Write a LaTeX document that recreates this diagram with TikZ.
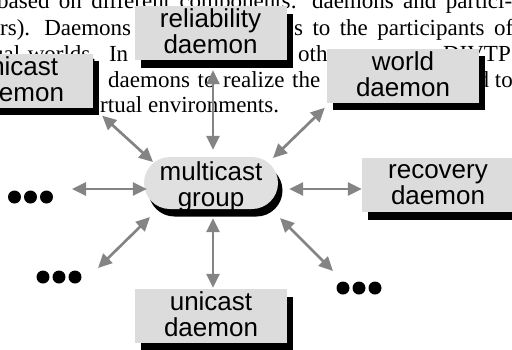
\documentclass[tikz,border=0pt]{standalone}
\usepackage{fontspec}
\setmainfont{Liberation Serif}
\newfontfamily\lblfont{Liberation Sans}
\usetikzlibrary{arrows.meta,shadows}
\definecolor{boxgray}{RGB}{220,220,220}
\definecolor{pillgray}{RGB}{224,224,224}
\definecolor{arrowgray}{RGB}{132,132,132}
\begin{document}
\begin{tikzpicture}[x=1pt,y=-1pt,
  bg/.style={anchor=base west, inner sep=0pt, font=\fontsize{23}{26}\selectfont},
  box/.style={fill=boxgray, minimum width=152pt, minimum height=54pt, inner sep=0pt,
    align=center, font=\lblfont\fontsize{26}{26}\selectfont,
    text height=45pt, text depth=4pt,
    general shadow={fill=black, shadow xshift=6pt, shadow yshift=-7.5pt}},
  pill/.style={fill=pillgray, minimum width=134pt, minimum height=52pt, inner sep=0pt,
    rounded corners=26pt, align=center, font=\lblfont\fontsize{26}{26}\selectfont,
    text height=48pt, text depth=2pt,
    general shadow={fill=black, shadow xshift=4.5pt, shadow yshift=-7.5pt}},
  dots/.style={minimum width=48pt, minimum height=14pt, inner sep=0pt},
  arr/.style={draw=arrowgray, line width=2.7pt,
    {Triangle[length=14pt,width=13pt]}-{Triangle[length=14pt,width=13pt]}}]
\useasboundingbox (0,0) rectangle (512,349);
% background text
\node[bg] (l1) at (-3,8) {\makebox[515pt][s]{based on different components: daemons and partici-}};
\node[bg] (l2a) at (0,35) {\makebox[131pt][s]{rs). Daemons}};
\node[bg] (l2b) at (294,35) {\makebox[219pt][s]{s to the participants of}};
\node[bg] (l3a) at (-8,61) {\makebox[136pt][s]{ual worlds. In}};
\node[bg] (l3b) at (298,61) {oth};
\node[bg,anchor=base east] (l3c) at (511,61) {DIVTP};
\node[bg] (l4a) at (108,87) {\makebox[212pt][s]{daemons to realize the}};
\node[bg,anchor=base east] (l4b) at (513,87) {d to};
\node[bg] (l5) at (100,112) {rtual environments.};
% nodes
\node[box] (rel) at (210.5,33) {reliability\\daemon};
\node[box] (world) at (403,75.5) {world\\daemon};
\node[box] (uniL) at (17,80.5) {unicast\\daemon};
\node[pill] (grp) at (211,183) {multicast\\group};
\node[box, text height=42pt, text depth=4pt] (rec) at (438,185) {recovery\\daemon};
\node[box, text height=44pt, text depth=4pt] (uniB) at (211,316) {unicast\\daemon};
\node[dots] (dL) at (30.5,197) {};
\node[dots] (dLL) at (59,277) {};
\node[dots] (dLR) at (359,288) {};
\foreach \d in {dL,dLL,dLR}
  \foreach \dx in {-16,0,16}
    \fill ([xshift=\dx pt]\d.center) circle (6.5pt);
\coordinate (lEnd) at (72,189);
\coordinate (llEnd) at (98,268);
\coordinate (lrEnd) at (333,271);
% connectors
\draw[arr, shorten <=7pt, shorten >=10pt] ([xshift=2pt]grp.north) -- ([xshift=2.5pt]rel.south);
\draw[arr, shorten <=9pt, shorten >=1pt] ([xshift=2pt]grp.south) -- ([xshift=2pt]uniB.north);
\draw[arr] ([xshift=3pt,yshift=-6pt]grp.west) -- (lEnd);
\draw[arr] ([xshift=11pt,yshift=-6pt]grp.east) -- ([yshift=-4pt]rec.west);
\draw[arr] ([xshift=-58pt,yshift=21pt]grp.center) -- ([xshift=9pt,yshift=-8pt]uniL.south east);
\draw[arr] ([xshift=62pt,yshift=25pt]grp.center) -- ([xshift=-2pt,yshift=-5pt]world.south west);
\draw[arr] ([xshift=-61pt,yshift=-34pt]grp.center) -- (llEnd);
\draw[arr] ([xshift=69pt,yshift=-35pt]grp.center) -- (lrEnd);
\end{tikzpicture}
\end{document}
